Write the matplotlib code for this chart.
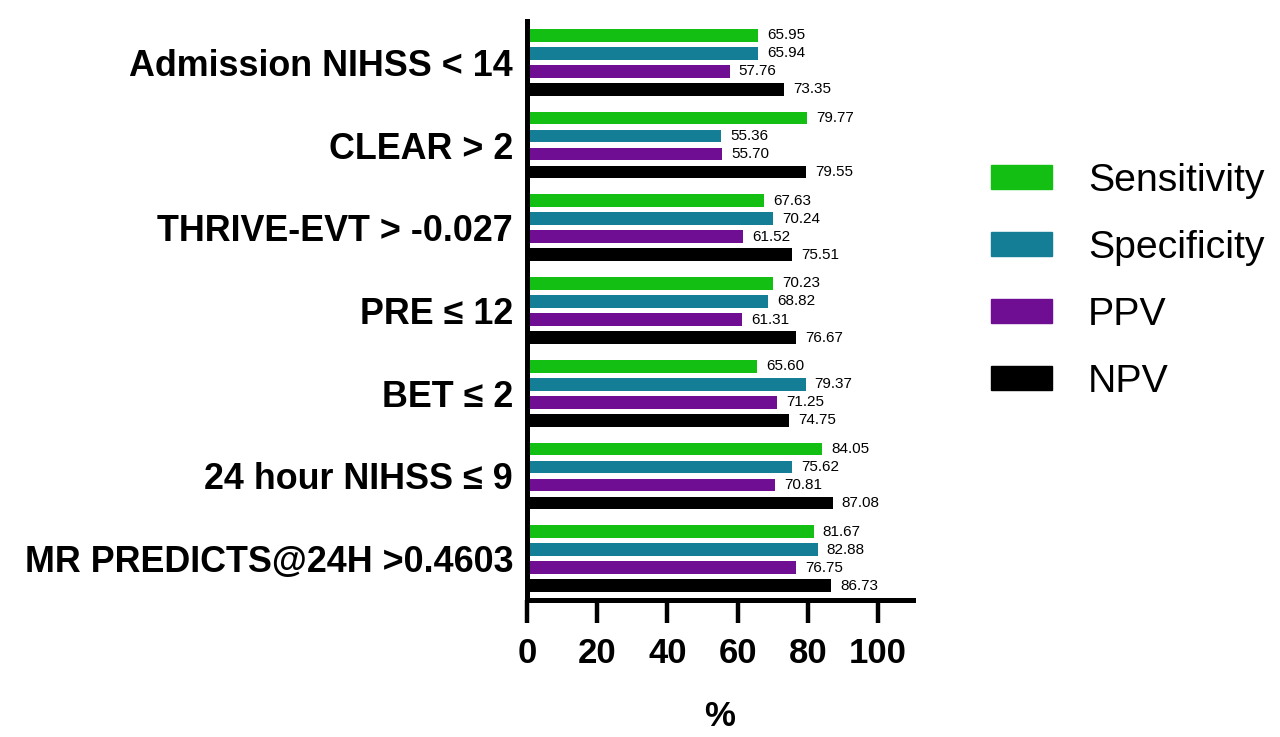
import matplotlib
matplotlib.use("Agg")
import matplotlib.pyplot as plt
import numpy as np
from matplotlib.patches import Patch

plt.rcParams['font.family'] = ['Liberation Sans', 'DejaVu Sans']

groups = ["Admission NIHSS < 14", "CLEAR > 2", "THRIVE-EVT > -0.027", "PRE ≤ 12",
          "BET ≤ 2", "24 hour NIHSS ≤ 9", "MR PREDICTS@24H >0.4603"]
series = ["Sensitivity", "Specificity", "PPV", "NPV"]
sensitivity = [65.95, 79.77, 67.63, 70.23, 65.60, 84.05, 81.67]
specificity = [65.94, 55.36, 70.24, 68.82, 79.37, 75.62, 82.88]
ppv = [57.76, 55.70, 61.52, 61.31, 71.25, 70.81, 76.75]
npv = [73.35, 79.55, 75.51, 76.67, 74.75, 87.08, 86.73]
colors = ["#12bf12", "#137e96", "#6f0d93", "#000000"]
xticks = [0, 20, 40, 60, 80, 100]

fig = plt.figure(figsize=(12.8, 7.37), dpi=100)
ax = fig.add_axes([527/1280, 1-600/737, (913-527)/1280, (600-21)/737])

y = np.arange(len(groups))
step = 0.2177
h = 0.155
for k, (vals, c) in enumerate(zip([sensitivity, specificity, ppv, npv], colors)):
    pos = y + (k - 1.5) * step
    ax.barh(pos, vals, height=h, color=c)
    for p, v in zip(pos, vals):
        ax.annotate(f"{v:.2f}", (v, p), xytext=(9, 0), textcoords="offset pixels",
                    va="center", ha="left", fontsize=11)

ax.set_xlim(0, 110)
ax.set_ylim(len(groups) - 0.5, -0.5)
ax.set_xticks(xticks)
ax.set_xticklabels([str(t) for t in xticks], fontsize=25, fontweight="bold")
ax.set_yticks(y)
ax.set_yticklabels(groups, fontsize=25.8, fontweight="bold")
ax.tick_params(axis="y", length=0, pad=10)
ax.tick_params(axis="x", direction="out", length=16.5, width=3.2, pad=10)
for s in ["top", "right"]:
    ax.spines[s].set_visible(False)
for s in ["left", "bottom"]:
    ax.spines[s].set_linewidth(3.6)
ax.set_xlabel("%", fontsize=25, fontweight="bold", labelpad=22)

handles = [Patch(color=c, label=s) for s, c in zip(series, colors)]
fig.legend(handles=handles, loc="upper left", bbox_to_anchor=(991/1280, 1-163/737),
           frameon=False, fontsize=28.3, handlelength=1.55, handleheight=0.56,
           handletextpad=0.92, labelspacing=0.79, borderpad=0, borderaxespad=0)

fig.savefig("out.png", dpi=100)
